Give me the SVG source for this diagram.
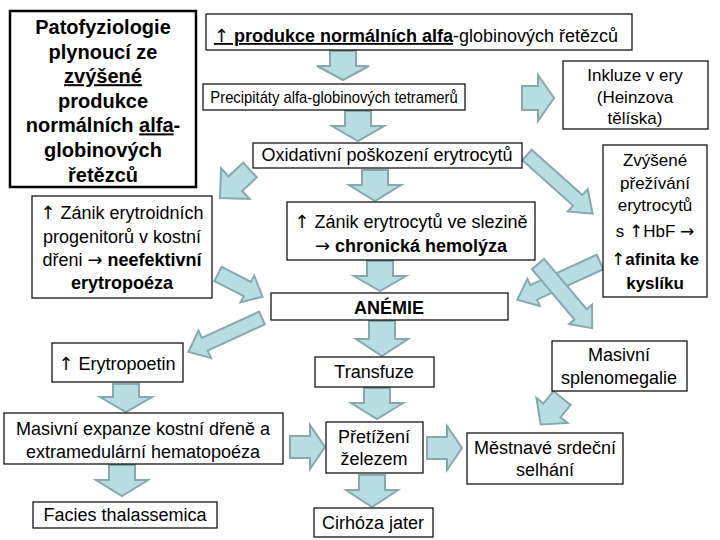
<svg xmlns="http://www.w3.org/2000/svg" width="720" height="540" viewBox="0 0 720 540">
<style>
.box{fill:#fff;stroke:#000;stroke-width:1.2}
.tbox{fill:#fff;stroke:#000;stroke-width:2.5}
text{font-family:"Liberation Sans",Arial,sans-serif;font-size:18px;fill:#000;text-anchor:middle}
.b{font-weight:bold}
.u{text-decoration:underline}
.ar{font-family:"DejaVu Sans",sans-serif;font-weight:normal}
.arr{fill:#b7dde2;stroke:#86a9ad;stroke-width:2;stroke-linejoin:miter}
</style>
<rect width="720" height="540" fill="#fff"/>
<g id="connectors">
<polygon class="arr" transform="translate(343,51) rotate(90)" points="0,-13 15,-13 15,-26 29,0 15,26 15,13 0,13"/>
<polygon class="arr" transform="translate(358,111) rotate(90)" points="0,-13 15,-13 15,-26 30,0 15,26 15,13 0,13"/>
<polygon class="arr" transform="translate(375,170) rotate(90)" points="0,-13 15,-13 15,-26 31,0 15,26 15,13 0,13"/>
<polygon class="arr" transform="translate(380,261) rotate(90)" points="0,-13 15,-13 15,-26 30,0 15,26 15,13 0,13"/>
<polygon class="arr" transform="translate(382,321) rotate(90)" points="0,-13 18,-13 18,-26 35,0 18,26 18,13 0,13"/>
<polygon class="arr" transform="translate(377,388) rotate(90)" points="0,-13 15,-13 15,-26 31,0 15,26 15,13 0,13"/>
<polygon class="arr" transform="translate(372,475) rotate(90)" points="0,-13 15,-13 15,-26 32,0 15,26 15,13 0,13"/>
<polygon class="arr" transform="translate(126,384) rotate(90)" points="0,-13 13,-13 13,-26 28,0 13,26 13,13 0,13"/>
<polygon class="arr" transform="translate(122,465) rotate(90)" points="0,-13 15,-13 15,-26 31,0 15,26 15,13 0,13"/>
<polygon class="arr" transform="translate(522,98)" points="0,-12 16,-12 16,-23 32,0 16,23 16,12 0,12"/>
<polygon class="arr" transform="translate(290,447)" points="0,-11 20,-11 20,-22 35,0 20,22 20,11 0,11"/>
<polygon class="arr" transform="translate(427,448)" points="0,-11 20,-11 20,-22 35,0 20,22 20,11 0,11"/>
<polygon class="arr" transform="translate(527,155) rotate(41.8)" points="0,-7 68,-7 68,-15 88,0 68,15 68,7 0,7"/>
<polygon class="arr" transform="translate(250,170) rotate(137)" points="0,-10 20,-10 20,-21 41,0 20,21 20,10 0,10"/>
<polygon class="arr" transform="translate(218,274) rotate(27)" points="0,-8 33,-8 33,-15 50,0 33,15 33,8 0,8"/>
<polygon class="arr" transform="translate(262,318) rotate(155.3)" points="0,-7 63,-7 63,-15 81,0 63,15 63,7 0,7"/>
<polygon class="arr" transform="translate(600,262) rotate(155.4)" points="0,-8 73,-8 73,-15 91,0 73,15 73,8 0,8"/>
<polygon class="arr" transform="translate(538,264) rotate(49.8)" points="0,-8 66,-8 66,-15 84,0 66,15 66,8 0,8"/>
<polygon class="arr" transform="translate(562,398) rotate(128.9)" points="0,-11 16,-11 16,-20 34,0 16,20 16,11 0,11"/>
</g>
<g id="title">
<rect class="tbox" x="10" y="11" width="186" height="176"/>
<text class="b" x="103" y="34" style="font-size:20px">Patofyziologie</text>
<text class="b" x="103" y="58.6" style="font-size:20px">plynoucí ze</text>
<text class="b" x="103" y="83.2" style="font-size:20px"><tspan class="u">zvýšené</tspan></text>
<text class="b" x="103" y="107.8" style="font-size:20px">produkce</text>
<text class="b" x="103" y="132.4" style="font-size:20px">normálních <tspan class="u">alfa</tspan>-</text>
<text class="b" x="103" y="157" style="font-size:20px">globinových</text>
<text class="b" x="103" y="181.6" style="font-size:20px">řetězců</text>
</g>
<g id="n-produkce">
<rect class="box" x="206" y="14" width="426" height="36"/>
<text x="416" y="42"><tspan class="b u"><tspan class="ar">↑</tspan> produkce normálních alfa</tspan>-globinových řetězců</text>
</g>
<g id="n-precipitaty">
<rect class="box" x="203" y="84" width="262" height="26"/>
<text transform="translate(334,103) scale(0.87,1)" x="0" y="0" style="font-size:17px">Precipitáty alfa-globinových tetramerů</text>
</g>
<g id="n-inkluze">
<rect class="box" x="563" y="61" width="145" height="68"/>
<text x="635" y="81" style="font-size:17px">Inkluze v ery</text>
<text x="635" y="103" style="font-size:17px">(Heinzova</text>
<text x="635" y="124" style="font-size:17px">tělíska)</text>
</g>
<g id="n-oxidativni">
<rect class="box" x="253" y="143" width="269" height="25"/>
<text x="387" y="161">Oxidativní poškození erytrocytů</text>
</g>
<g id="n-zvysene">
<rect class="box" x="603" y="145" width="104" height="152"/>
<text x="655" y="166" style="font-size:17px">Zvýšené</text>
<text x="655" y="189" style="font-size:17px">přežívání</text>
<text x="655" y="211" style="font-size:17px">erytrocytů</text>
<text x="655" y="237" style="font-size:17px">s <tspan class="ar">↑</tspan>HbF <tspan class="ar">→</tspan></text>
<text class="b" x="655" y="265" style="font-size:17px"><tspan class="ar">↑</tspan>afinita ke</text>
<text class="b" x="655" y="289" style="font-size:17px">kyslíku</text>
</g>
<g id="n-zanik-progenitoru">
<rect class="box" x="32" y="196" width="180" height="102"/>
<text x="122" y="219"><tspan class="ar">↑</tspan> Zánik erytroidních</text>
<text x="122" y="243">progenitorů v kostní</text>
<text x="122" y="266">dřeni <tspan class="ar">→</tspan> <tspan class="b">neefektivní</tspan></text>
<text class="b" x="122" y="289">erytropoéza</text>
</g>
<g id="n-zanik-erytrocytu">
<rect class="box" x="287" y="202" width="248" height="58"/>
<text x="411" y="228"><tspan class="ar">↑</tspan> Zánik erytrocytů ve slezině</text>
<text x="411" y="252"><tspan class="ar">→</tspan> <tspan class="b">chronická hemolýza</tspan></text>
</g>
<g id="n-anemie">
<rect class="box" x="271" y="293" width="237" height="27"/>
<text class="b" x="389" y="314">ANÉMIE</text>
</g>
<g id="n-erytropoetin">
<rect class="box" x="52" y="343" width="131" height="39"/>
<text x="117" y="370"><tspan class="ar">↑</tspan> Erytropoetin</text>
</g>
<g id="n-transfuze">
<rect class="box" x="315" y="357" width="119" height="30"/>
<text x="374" y="378">Transfuze</text>
</g>
<g id="n-splenomegalie">
<rect class="box" x="552" y="341" width="135" height="50"/>
<text x="619" y="361">Masivní</text>
<text x="619" y="384">splenomegalie</text>
</g>
<g id="n-expanze">
<rect class="box" x="4" y="413" width="279" height="51"/>
<text x="143" y="435">Masivní expanze kostní dřeně a</text>
<text x="143" y="458">extramedulární hematopoéza</text>
</g>
<g id="n-pretizeni">
<rect class="box" x="326" y="422" width="97" height="51"/>
<text x="374" y="443">Přetížení</text>
<text x="374" y="465">železem</text>
</g>
<g id="n-mestnave">
<rect class="box" x="467" y="433" width="156" height="51"/>
<text x="545" y="454">Městnavé srdeční</text>
<text x="545" y="476">selhání</text>
</g>
<g id="n-facies">
<rect class="box" x="33" y="502" width="184" height="26"/>
<text x="125" y="521">Facies thalassemica</text>
</g>
<g id="n-cirhoza">
<rect class="box" x="314" y="508" width="119" height="29"/>
<text x="373" y="529">Cirhóza jater</text>
</g>
</svg>
